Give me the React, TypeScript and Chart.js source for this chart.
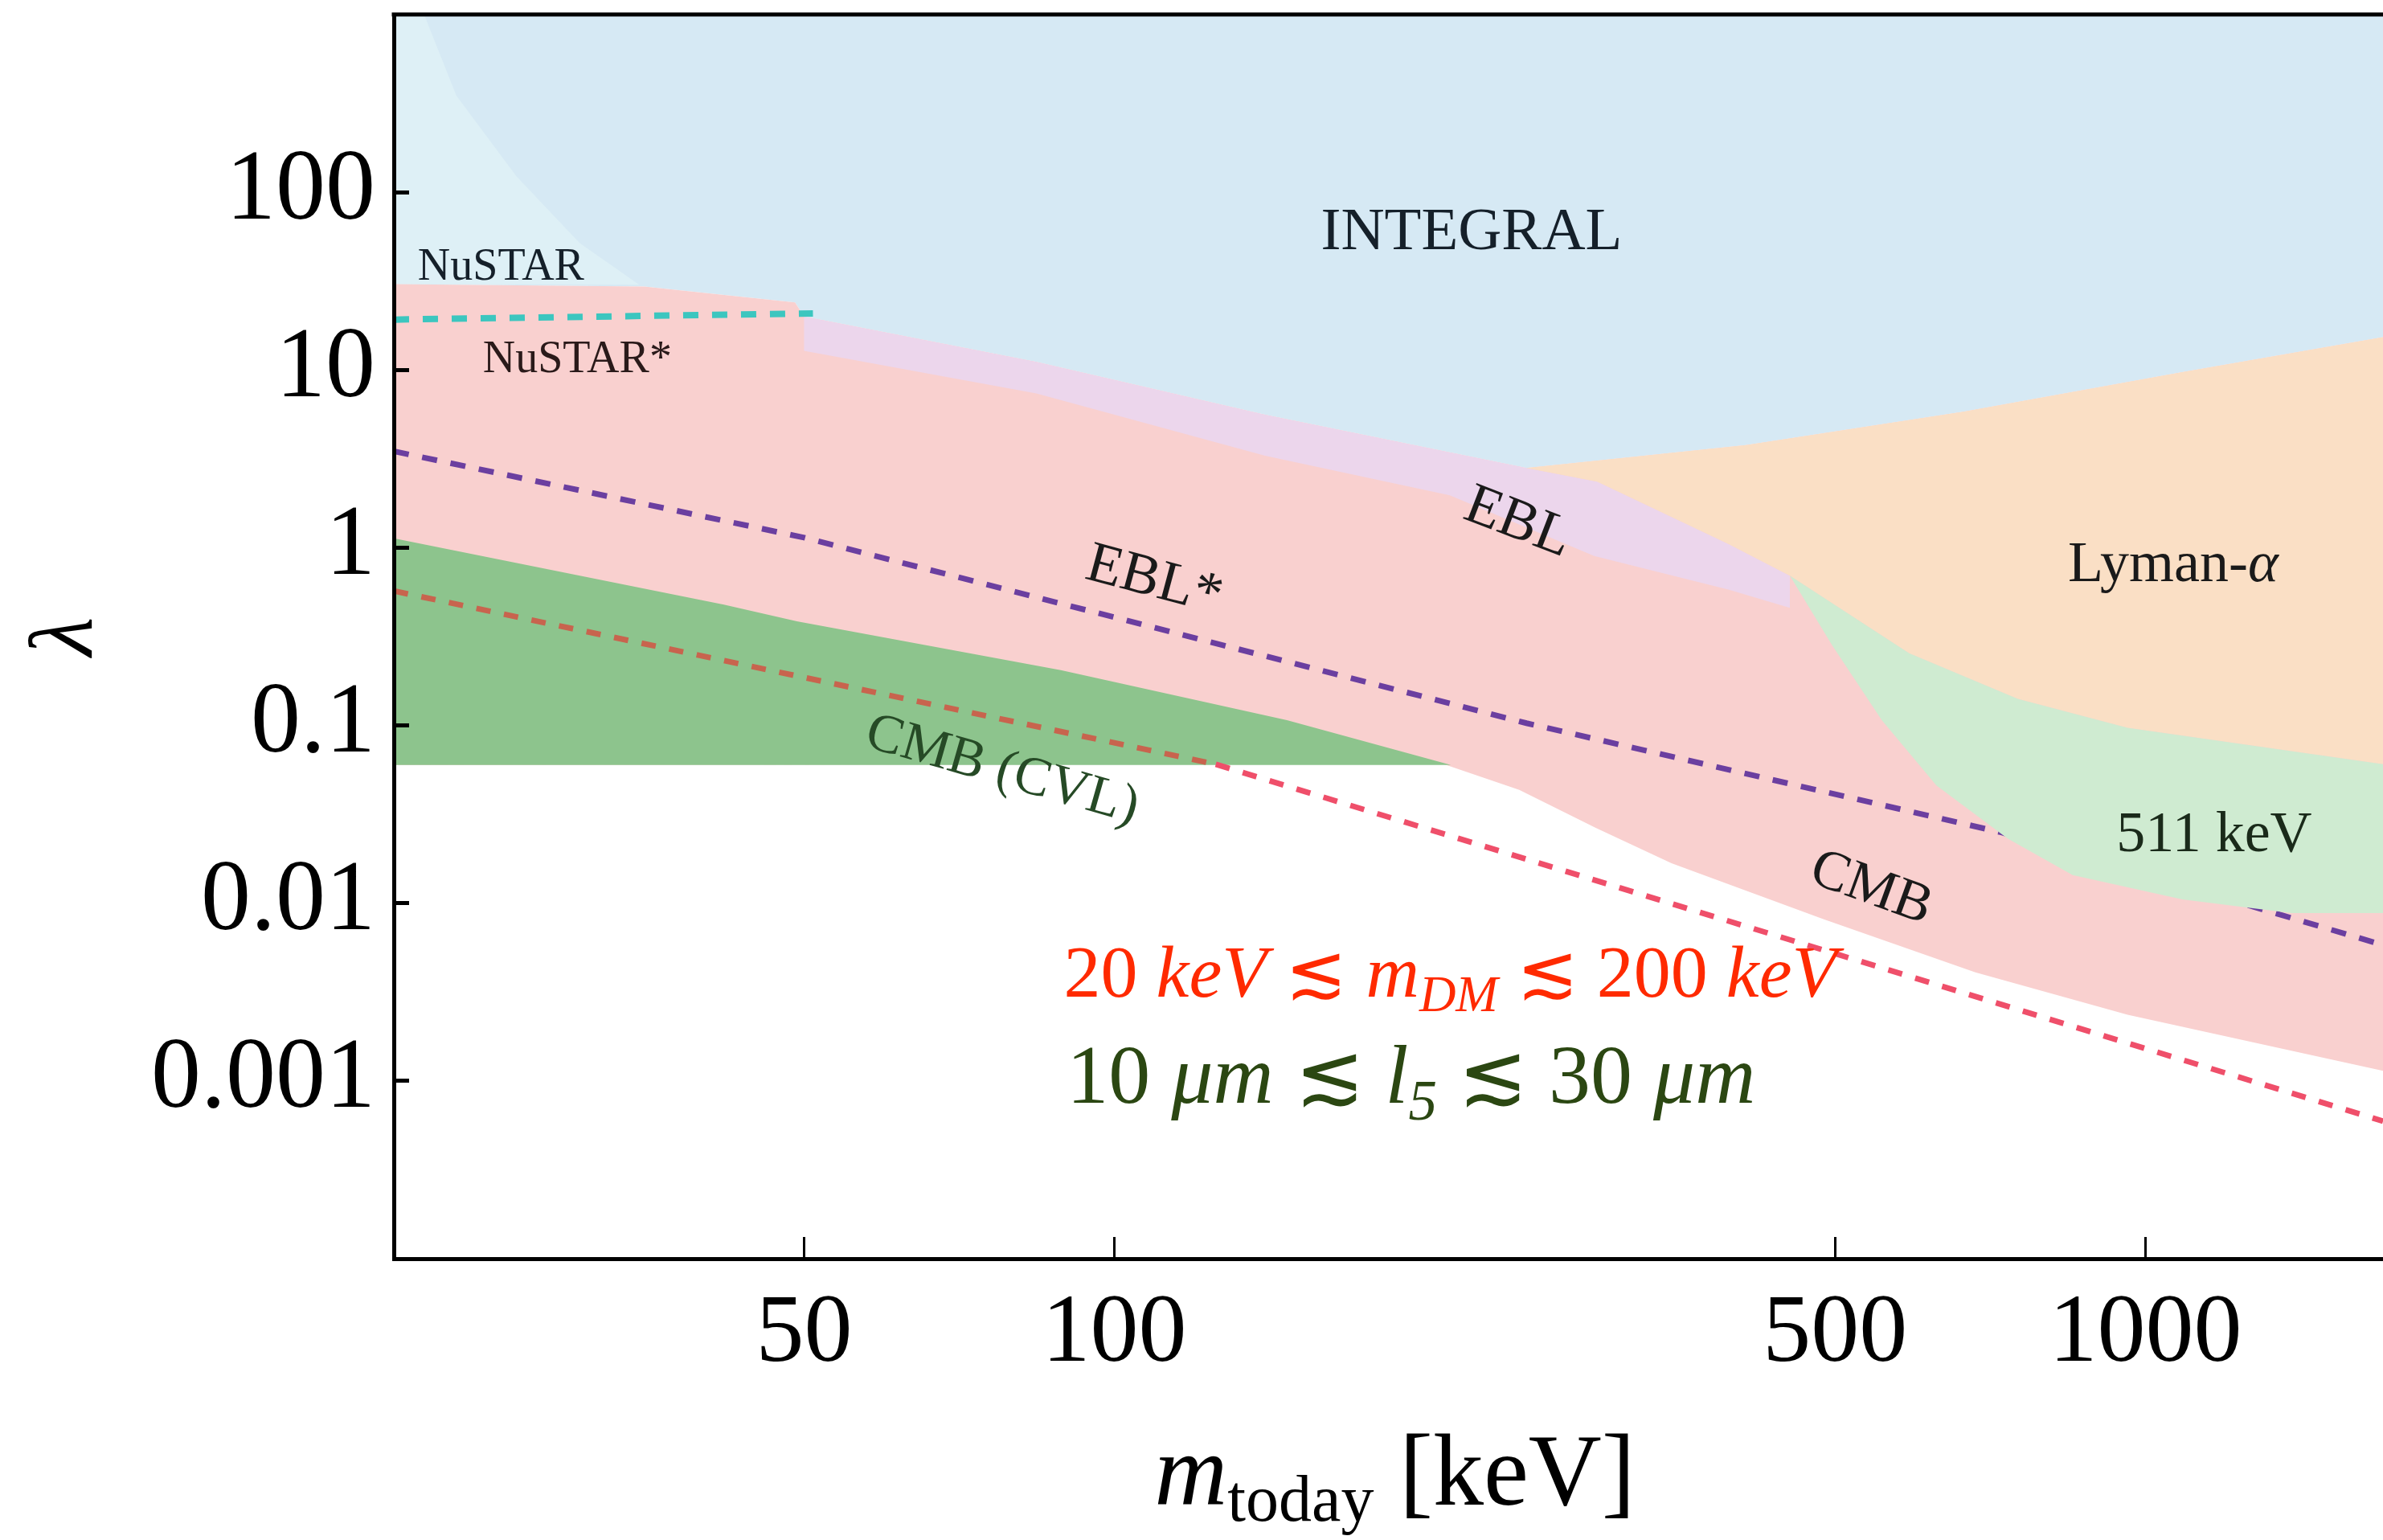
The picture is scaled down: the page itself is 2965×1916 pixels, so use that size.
import React, { useEffect, useRef } from 'react';
import { Chart, registerables } from 'chart.js';

Chart.register(...registerables);

// ---------- axes ----------
const X_MIN = 20;
const X_MAX = 1700;
const Y_MIN = 1e-4;
const Y_MAX = 1e3;
const X_TICKS = [50, 100, 500, 1000];
const Y_TICKS = [0.001, 0.01, 0.1, 1, 10, 100];

// ---------- regions (m_today [keV], lambda) ----------
// INTEGRAL (light blue): everything above its lower boundary
const INTEGRAL_M = [20, 35, 49, 50, 84, 140, 251, 410, 666, 1086, 1700, 1700, 20];
const INTEGRAL_L = [30.4, 29.5, 24, 20, 11.1, 5.6, 2.81, 3.78, 5.82, 9.71, 15.3, 2000, 2000];

// NuSTAR (lighter patch in the upper-left corner)
const NUSTAR_M = [20, 21.4, 23.0, 26.3, 30.3, 34.6, 20];
const NUSTAR_L = [2000, 1000, 349, 123, 51.7, 30.2, 30.4];

// CMB band (pink)
const CMB_BAND_M = [20, 35, 49, 50, 84, 140, 251, 410, 666, 1086, 1700, 1700, 1349, 961, 684, 487, 347, 293, 247, 208.7, 20];
const CMB_BAND_L = [30.4, 29.5, 24, 20, 11.1, 5.6, 2.81, 3.78, 5.82, 9.71, 15.3, 0.00114, 0.00153, 0.00236, 0.00408, 0.00813, 0.0168, 0.0265, 0.0434, 0.0605, 0.06];

// EBL (lavender)
const EBL_M = [50, 84, 140, 251, 294, 394, 452, 452, 394, 292, 211.5, 140, 84, 50];
const EBL_L = [20, 11.1, 5.6, 2.81, 2.35, 1.05, 0.695, 0.459, 0.582, 0.897, 1.97, 3.29, 7.38, 12.8];

// Lyman-alpha (orange)
const LYMAN_M = [251, 410, 666, 1086, 1700, 1700, 961, 752, 590, 452, 394, 294];
const LYMAN_L = [2.81, 3.78, 5.82, 9.71, 15.3, 0.0605, 0.0971, 0.141, 0.255, 0.695, 1.05, 2.35];

// 511 keV (light green)
const LINE511_M = [452, 590, 752, 961, 1700, 1700, 1386, 1086, 850, 735, 627, 555, 497];
const LINE511_L = [0.695, 0.255, 0.141, 0.0971, 0.0605, 0.00879, 0.00879, 0.0105, 0.0144, 0.0231, 0.046, 0.107, 0.281];

// CMB (CVL) (green)
const CVL_M = [20, 41.8, 49.2, 88.7, 147, 212, 20];
const CVL_L = [1.13, 0.478, 0.385, 0.205, 0.107, 0.06, 0.06];

// ---------- dashed projections ----------
const NUSTAR_STAR_M = [20, 51];
const NUSTAR_STAR_L = [19.2, 20.8];
const EBL_STAR_M = [20, 50, 251, 725, 1700];
const EBL_STAR_L = [3.49, 1.14, 0.103, 0.025, 0.00582];
const CMB_LINE_M = [20, 125.4, 1700];
const CMB_LINE_L = [0.571, 0.0605, 0.000594];

// ---------- labels ----------
const SERIF = "'Liberation Serif', 'DejaVu Serif', serif";
type Run = [string, string]; // [text, style] style: n | i | sub | isub
const PLOT_LABELS: { runs: Run[]; m: number; l: number; size: number; rot: number; color: string; align: string }[] = [
  { runs: [['INTEGRAL', 'n']], m: 222, l: 61.8, size: 75, rot: 0, color: '#15202a', align: 'center' },
  { runs: [['NuSTAR', 'n']], m: 21.1, l: 32.3, size: 56, rot: 0, color: '#15202a', align: 'left' },
  { runs: [['NuSTAR*', 'n']], m: 24.4, l: 9.7, size: 56, rot: 0, color: '#2a1a1a', align: 'left' },
  { runs: [['EBL', 'n']], m: 247, l: 1.44, size: 72, rot: 21, color: '#1a1a1a', align: 'center' },
  { runs: [['EBL*', 'n']], m: 109.5, l: 0.68, size: 72, rot: 15, color: '#1a1a1a', align: 'center' },
  { runs: [['Lyman-', 'n'], ['α', 'i']], m: 1064, l: 0.83, size: 72, rot: 0, color: '#1a1a1a', align: 'center' },
  { runs: [['511 keV', 'n']], m: 1166, l: 0.025, size: 72, rot: 0, color: '#1a2a1a', align: 'center' },
  { runs: [['CMB', 'n']], m: 543.5, l: 0.0126, size: 70, rot: 20, color: '#1a1a1a', align: 'center' },
  { runs: [['CMB (CVL)', 'n']], m: 78, l: 0.0582, size: 68, rot: 16, color: '#264a26', align: 'center' },
  {
    runs: [['20 ', 'n'], ['keV', 'i'], [' ≲ ', 'n'], ['m', 'i'], ['DM', 'isub'], [' ≲ 200 ', 'n'], ['keV', 'i']],
    m: 89.3, l: 0.00298, size: 92, rot: 0, color: '#ff2a00', align: 'leftBase',
  },
  {
    runs: [['10 ', 'n'], ['μm', 'i'], [' ≲ ', 'n'], ['l', 'i'], ['5', 'isub'], [' ≲ 30 ', 'n'], ['μm', 'i']],
    m: 89.9, l: 0.00075, size: 104, rot: 0, color: '#2b4712', align: 'leftBase',
  },
];

const COLORS = {
  integral: '#d6e9f4',
  nustar: '#def0f6',
  cmbBand: '#f9d0cf',
  ebl: '#ecd6ec',
  lyman: '#fadfc5',
  line511: '#cfebd1',
  cvl: '#8dc48d',
  nustarLine: '#3cc6bf',
  eblLine: '#6b3fa0',
  cmbLine: '#ef4f6a',
  cmbLineInGreen: '#c8644e',
};

const pts = (M: number[], L: number[]) => M.map((m, i) => ({ x: m, y: L[i] }));

function fontFor(style: string, size: number) {
  const sub = style === 'sub' || style === 'isub';
  const italic = style === 'i' || style === 'isub';
  const s = sub ? size * 0.68 : size;
  return `${italic ? 'italic ' : ''}${Math.round(s)}px ${SERIF}`;
}

function drawRuns(ctx: CanvasRenderingContext2D, runs: Run[], x: number, y: number, size: number, align: string) {
  let total = 0;
  const widths: number[] = [];
  for (const [t, st] of runs) {
    ctx.font = fontFor(st, size);
    const w = ctx.measureText(t).width;
    widths.push(w);
    total += w;
  }
  let cx = align === 'center' ? x - total / 2 : x;
  runs.forEach(([t, st], i) => {
    ctx.font = fontFor(st, size);
    const sub = st === 'sub' || st === 'isub';
    ctx.fillText(t, cx, y + (sub ? size * 0.2 : 0));
    cx += widths[i];
  });
  return total;
}

const decorPlugin = {
  id: 'decor',
  afterDatasetsDraw(chart: any) {
    const { ctx, scales } = chart;
    const xs = scales.x;
    const ys = scales.y;
    ctx.save();
    ctx.textBaseline = 'alphabetic';
    ctx.textAlign = 'left';
    for (const lab of PLOT_LABELS) {
      const px = xs.getPixelForValue(lab.m);
      const py = ys.getPixelForValue(lab.l);
      ctx.fillStyle = lab.color;
      ctx.save();
      ctx.translate(px, py);
      ctx.rotate((lab.rot * Math.PI) / 180);
      if (lab.align === 'center') {
        drawRuns(ctx, lab.runs, 0, lab.size * 0.33, lab.size, 'center');
      } else {
        drawRuns(ctx, lab.runs, 0, 0, lab.size, 'left');
      }
      ctx.restore();
    }
    ctx.restore();
  },
  afterDraw(chart: any) {
    const { ctx, chartArea } = chart;
    ctx.save();
    // top frame line
    ctx.strokeStyle = '#000';
    ctx.lineWidth = 5;
    ctx.beginPath();
    ctx.moveTo(chartArea.left - 2.5, chartArea.top);
    ctx.lineTo(chartArea.right, chartArea.top);
    ctx.stroke();

    // x title: m_today [keV]
    ctx.fillStyle = '#000';
    ctx.textBaseline = 'alphabetic';
    ctx.textAlign = 'left';
    const size = 126;
    const runs: [string, string, number, number][] = [
      ['m', 'italic', size, 0],
      ['today', '', 82, 20],
      [' [keV]', '', size, 0],
    ];
    let total = 0;
    const ws: number[] = [];
    for (const [t, st, s] of runs) {
      ctx.font = `${st} ${s}px ${SERIF}`;
      const w = ctx.measureText(t).width;
      ws.push(w);
      total += w;
    }
    let cx = (chartArea.left + chartArea.right) / 2 - total / 2 + 8;
    const base = 1872;
    runs.forEach(([t, st, s, off], i) => {
      ctx.font = `${st} ${s}px ${SERIF}`;
      ctx.fillText(t, cx, base + off);
      cx += ws[i];
    });

    // y title: lambda
    ctx.save();
    ctx.translate(85, (chartArea.top + chartArea.bottom) / 2);
    ctx.rotate(-Math.PI / 2);
    ctx.font = `italic 112px ${SERIF}`;
    ctx.textAlign = 'center';
    ctx.textBaseline = 'middle';
    ctx.fillText('λ', 0, 0);
    ctx.restore();
    ctx.restore();
  },
};

export default function App() {
  const canvasRef = useRef<HTMLCanvasElement | null>(null);

  useEffect(() => {
    if (!canvasRef.current) return;
    const region = (label: string, M: number[], L: number[], color: string, order: number) => ({
      label,
      data: pts(M, L),
      showLine: true,
      fill: 'shape',
      backgroundColor: color,
      borderColor: 'rgba(0,0,0,0)',
      borderWidth: 0,
      pointRadius: 0,
      tension: 0,
      order,
    });
    const dashed = (label: string, M: number[], L: number[], color: string, dash: number[], width: number, order: number) => ({
      label,
      data: pts(M, L),
      showLine: true,
      fill: false,
      borderColor: color,
      borderWidth: width,
      borderDash: dash,
      pointRadius: 0,
      tension: 0,
      order,
    });

    const cmbLine: any = dashed('CMB*', CMB_LINE_M, CMB_LINE_L, COLORS.cmbLine, [18, 17], 7, 3);
    cmbLine.segment = {
      borderColor: (c: any) => (c.p0.parsed.y > 0.07 ? COLORS.cmbLineInGreen : COLORS.cmbLine),
    };

    const datasets: any[] = [
      region('INTEGRAL', INTEGRAL_M, INTEGRAL_L, COLORS.integral, 100),
      region('NuSTAR', NUSTAR_M, NUSTAR_L, COLORS.nustar, 95),
      region('CMB', CMB_BAND_M, CMB_BAND_L, COLORS.cmbBand, 90),
      region('EBL', EBL_M, EBL_L, COLORS.ebl, 85),
      region('Lyman-alpha', LYMAN_M, LYMAN_L, COLORS.lyman, 80),
      dashed('EBL*', EBL_STAR_M, EBL_STAR_L, COLORS.eblLine, [19, 17], 7, 75),
      region('511 keV', LINE511_M, LINE511_L, COLORS.line511, 70),
      region('CMB (CVL)', CVL_M, CVL_L, COLORS.cvl, 65),
      dashed('NuSTAR*', NUSTAR_STAR_M, NUSTAR_STAR_L, COLORS.nustarLine, [19, 17], 8, 4),
      cmbLine,
    ];

    const chart = new Chart(canvasRef.current, {
      type: 'scatter',
      data: { datasets },
      plugins: [decorPlugin],
      options: {
        animation: false,
        responsive: true,
        maintainAspectRatio: false,
        devicePixelRatio: 1,
        layout: { padding: { top: 18, right: 0, left: 0, bottom: 0 } },
        plugins: { legend: { display: false }, tooltip: { enabled: false } },
        scales: {
          x: {
            type: 'logarithmic',
            position: 'bottom',
            min: X_MIN,
            max: X_MAX,
            afterBuildTicks: (s: any) => {
              s.ticks = X_TICKS.map((v) => ({ value: v }));
            },
            afterFit: (s: any) => {
              s.height = 350;
              s.paddingLeft = 0;
              s.paddingRight = 0;
            },
            ticks: {
              autoSkip: false,
              maxRotation: 0,
              minRotation: 0,
              color: '#000',
              padding: 50,
              font: { family: SERIF, size: 120 },
              callback: (v: any) => String(v),
            },
            grid: { drawOnChartArea: false, drawTicks: true, tickLength: -27, color: '#000', lineWidth: 3, z: 1 },
            border: { display: true, color: '#000', width: 5, z: 1 },
          },
          y: {
            type: 'logarithmic',
            position: 'left',
            min: Y_MIN,
            max: Y_MAX,
            afterBuildTicks: (s: any) => {
              s.ticks = Y_TICKS.map((v) => ({ value: v }));
            },
            afterFit: (s: any) => {
              s.width = 490;
              s.paddingTop = 0;
              s.paddingBottom = 0;
            },
            ticks: {
              autoSkip: false,
              color: '#000',
              padding: 42,
              font: { family: SERIF, size: 124 },
              callback: (v: any) => String(v),
            },
            grid: { drawOnChartArea: false, drawTicks: true, tickLength: -19, color: '#000', lineWidth: 5, z: 1 },
            border: { display: true, color: '#000', width: 5, z: 1 },
          },
        },
      } as any,
    });
    return () => chart.destroy();
  }, []);

  return (
    <div style={{ position: 'absolute', left: 0, top: 0, width: 2965, height: 1916, background: '#fff' }}>
      <canvas ref={canvasRef} />
    </div>
  );
}
